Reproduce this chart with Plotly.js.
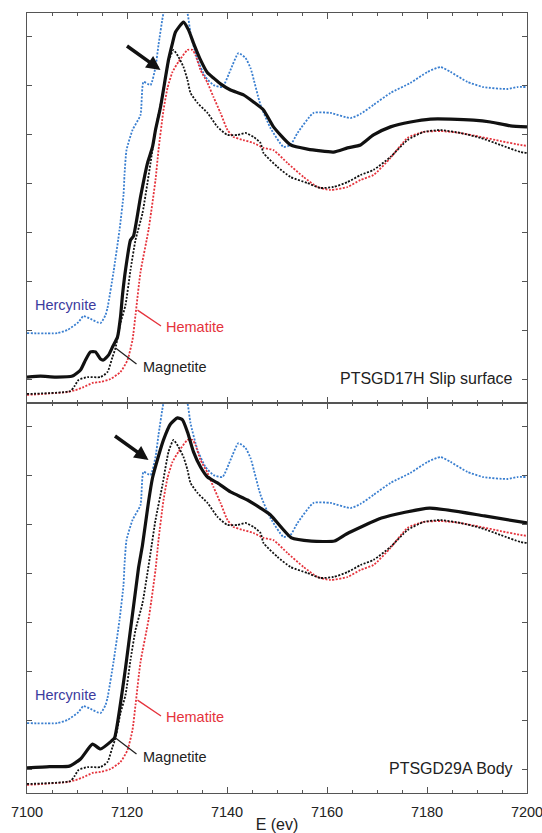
<!DOCTYPE html>
<html><head><meta charset="utf-8">
<script src="https://cdn.plot.ly/plotly-3.0.1.min.js"></script>
<style>html,body{margin:0;padding:0;background:#fff;}#chart{width:542px;height:833px;}</style>
</head><body><div id="chart"></div>
<script>
// ---- Reference spectra (normalized, offset) ----
const hercE  = [7100,7106.1,7108.1,7110.3,7111.3,7112.7,7114.7,7115.7,7116.1,7117.3,7118.5,7119.3,7119.5,7119.9,7121.1,7122.7,7123.3,7124.7,7125.7,7126.3,7127.3,7129.6,7132.1,7132.7,7134.1,7135.7,7137.3,7139.1,7140.7,7142.3,7143.7,7144.7,7146.7,7148.7,7151.3,7152.7,7154.1,7157.3,7160.7,7164.7,7166.7,7169.3,7172.7,7176.7,7180.1,7182.7,7184.7,7188.1,7191.3,7196.1,7198.1,7200];
const hercMu = [0.188,0.188,0.201,0.233,0.258,0.246,0.229,0.262,0.291,0.438,0.610,0.753,0.835,0.937,1.019,1.081,1.216,1.203,1.277,1.367,1.498,1.66,1.498,1.416,1.306,1.236,1.203,1.195,1.265,1.334,1.314,1.273,1.122,1.027,0.950,0.958,1.007,1.089,1.089,1.068,1.085,1.122,1.171,1.212,1.257,1.277,1.257,1.216,1.195,1.187,1.195,1.195];

const hemE  = [7100,7108.1,7109.7,7111.3,7113.1,7114.7,7116.7,7118.7,7120.1,7121.1,7121.7,7122.7,7124.3,7125.7,7126.3,7127.3,7128.1,7129.1,7130.3,7132.1,7133.1,7133.7,7134.7,7136.1,7137.3,7138.7,7140.1,7141.3,7143.3,7145.3,7147.3,7149.3,7152.1,7155.3,7158.1,7160.7,7164.1,7166.7,7169.3,7172.7,7176.1,7179.3,7182.7,7186.7,7190.7,7194.7,7198.7,7200];
const hemMu = [-0.065,-0.053,-0.045,-0.033,-0.016,-0.012,0.000,0.029,0.078,0.160,0.262,0.438,0.610,0.815,0.937,1.101,1.191,1.257,1.298,1.347,1.347,1.326,1.265,1.212,1.154,1.089,1.019,0.991,0.978,0.966,0.946,0.937,0.884,0.827,0.786,0.774,0.786,0.815,0.835,0.905,0.987,1.011,1.015,1.007,0.991,0.974,0.958,0.954];

const magE  = [7100,7108.7,7109.5,7110.3,7112.1,7114.7,7116.1,7117.1,7117.7,7118.7,7119.7,7120.7,7121.7,7123.1,7124.7,7125.7,7127.1,7128.3,7129.3,7130.3,7131.3,7132.1,7132.7,7134.1,7136.1,7138.1,7140.1,7142.1,7143.7,7145.3,7146.7,7147.3,7150.1,7152.7,7156.1,7158.7,7161.3,7164.1,7166.7,7169.3,7172.7,7176.1,7179.3,7182.7,7186.7,7190.7,7194.7,7198.7,7200];
const magMu = [-0.061,-0.049,-0.029,-0.004,0.008,0.008,0.029,0.090,0.127,0.229,0.303,0.446,0.569,0.679,0.884,1.019,1.163,1.298,1.347,1.318,1.277,1.224,1.171,1.130,1.089,1.032,0.999,0.999,1.007,0.991,0.966,0.925,0.868,0.827,0.802,0.782,0.786,0.806,0.835,0.856,0.909,0.978,1.011,1.019,1.007,0.987,0.958,0.929,0.925];

// ---- Samples ----
const s17E  = [7100,7102.7,7105.7,7109.1,7110.7,7111.7,7112.7,7113.7,7114.7,7115.3,7116.3,7117.1,7118.1,7118.7,7119.1,7119.7,7120.7,7121.3,7122.7,7124.1,7125.1,7125.7,7126.7,7128.3,7129.1,7129.7,7131.3,7132.3,7133.3,7134.7,7136.1,7137.3,7138.7,7140.7,7143.3,7145.3,7147.3,7149.3,7152.7,7156.1,7161.3,7164.1,7166.7,7169.3,7172.7,7176.7,7180.7,7184.7,7189.3,7192.7,7196.7,7200];
const s17Mu = [0.008,0.012,0.008,0.012,0.037,0.078,0.111,0.111,0.082,0.078,0.098,0.131,0.172,0.254,0.344,0.446,0.569,0.585,0.745,0.884,0.950,1.019,1.113,1.306,1.375,1.420,1.461,1.429,1.375,1.306,1.253,1.232,1.208,1.183,1.163,1.134,1.101,1.032,0.958,0.941,0.929,0.946,0.958,0.999,1.032,1.052,1.064,1.064,1.060,1.052,1.036,1.032];

const s29E  = [7100,7104.5,7108.5,7110.7,7113.1,7114.7,7116.9,7117.5,7119.7,7122.3,7123.1,7124.3,7125.1,7126.3,7127.3,7128.7,7130.1,7131.1,7132.1,7133.3,7134.7,7136.1,7138.1,7140.7,7144.1,7146.7,7148.7,7152.9,7156.9,7161.5,7163.9,7170.9,7180.5,7191.5,7200];
const s29Mu = [0.005,0.010,0.012,0.041,0.102,0.082,0.115,0.127,0.413,0.823,0.917,1.093,1.191,1.281,1.347,1.412,1.437,1.429,1.379,1.298,1.236,1.195,1.171,1.134,1.101,1.068,1.040,0.946,0.933,0.933,0.962,1.027,1.068,1.036,1.007];

const panels = [
  {name:'PTSGD17H Slip surface', E:s17E, mu:s17Mu, xa:'x2', ya:'y2', arrowE:7126.7},
  {name:'PTSGD29A Body',         E:s29E, mu:s29Mu, xa:'x',  ya:'y',  arrowE:7124.3}
];

const BLUE='#3a7fd0', RED='#e5323b', BLK='#111111';
const dotted = '2px,1.5px';
const traces=[]; const ann=[];
const FONT='"Liberation Sans", Arial, Helvetica, sans-serif';
const SM = 0.5;

panels.forEach(p=>{
  traces.push({x:hercE,y:hercMu,xaxis:p.xa,yaxis:p.ya,mode:'lines',line:{color:BLUE,width:1.8,dash:dotted,shape:'spline',smoothing:SM},hoverinfo:'skip'});
  traces.push({x:hemE,y:hemMu,xaxis:p.xa,yaxis:p.ya,mode:'lines',line:{color:RED,width:1.8,dash:dotted,shape:'spline',smoothing:SM},hoverinfo:'skip'});
  traces.push({x:magE,y:magMu,xaxis:p.xa,yaxis:p.ya,mode:'lines',line:{color:BLK,width:1.8,dash:dotted,shape:'spline',smoothing:SM},hoverinfo:'skip'});
  traces.push({x:p.E,y:p.mu,xaxis:p.xa,yaxis:p.ya,mode:'lines',line:{color:BLK,width:3.2,shape:'spline',smoothing:SM},hoverinfo:'skip'});
  const xr=p.xa, yr=p.ya;
  ann.push({xref:xr,yref:yr,x:7107.7,y:0.303,text:'Hercynite',showarrow:false,font:{family:FONT,size:14.5,color:'#3b3b9e'}});
  ann.push({xref:xr,yref:yr,x:7127.3,y:0.213,xanchor:'left',text:'Hematite',showarrow:false,font:{family:FONT,size:14.5,color:RED}});
  ann.push({xref:xr,yref:yr,x:7122.1,y:0.282,axref:xr,ayref:yr,ax:7127.1,ay:0.213,text:'',showarrow:true,arrowhead:0,arrowwidth:1.3,arrowcolor:RED,standoff:0,startstandoff:0});
  ann.push({xref:xr,yref:yr,x:7122.7,y:0.049,xanchor:'left',text:'Magnetite',showarrow:false,font:{family:FONT,size:14.5,color:'#222'}});
  ann.push({xref:xr,yref:yr,x:7117.7,y:0.127,axref:xr,ayref:yr,ax:7122.2,ay:0.057,text:'',showarrow:true,arrowhead:0,arrowwidth:1.3,arrowcolor:'#222',standoff:0,startstandoff:0});
  ann.push({xref:xr,yref:yr,x:7197.5,y:0.004,xanchor:'right',text:p.name,showarrow:false,font:{family:FONT,size:16,color:'#222'}});
  ann.push({xref:xr,yref:yr,x:p.arrowE,y:1.265,ax:-35,ay:-25,text:'',showarrow:true,arrowhead:2,arrowsize:0.8,arrowwidth:3.5,arrowcolor:BLK,standoff:0});
});

const AX='#555';
const xbase = {range:[7100,7200],dtick:20,tick0:7100,ticks:'inside',ticklen:6,tickwidth:1,tickcolor:AX,
  showline:true,linecolor:AX,linewidth:1,mirror:'ticks',showgrid:false,zeroline:false,
  minor:{dtick:5,ticks:'inside',ticklen:3,tickcolor:AX,showgrid:false}};
const ybase = {range:[-0.098,1.498],dtick:0.2,tick0:0,ticks:'inside',ticklen:5,tickwidth:1,tickcolor:AX,
  showline:true,linecolor:AX,linewidth:1,mirror:'ticks',showgrid:false,zeroline:false,showticklabels:false};

const layout = {
  width:542,height:833,margin:{l:27,r:15,t:13,b:40},
  paper_bgcolor:'#fff',plot_bgcolor:'#fff',showlegend:false,
  font:{family:FONT,color:'#222'},
  xaxis:Object.assign({},xbase,{domain:[0,1],anchor:'y',tickfont:{family:FONT,size:14.5,color:'#222'},ticklabelstandoff:6,
    ticklabeloverflow:'allow',
    title:{text:'E (ev)',font:{family:FONT,size:16,color:'#222'},standoff:2}}),
  yaxis:Object.assign({},ybase,{domain:[0,0.5],anchor:'x'}),
  xaxis2:Object.assign({},xbase,{domain:[0,1],anchor:'y2',matches:'x',showticklabels:false}),
  yaxis2:Object.assign({},ybase,{domain:[0.5,1],anchor:'x2'}),
  annotations:ann
};
Plotly.newPlot('chart',traces,layout,{staticPlot:true,displayModeBar:false});
</script></body></html>
